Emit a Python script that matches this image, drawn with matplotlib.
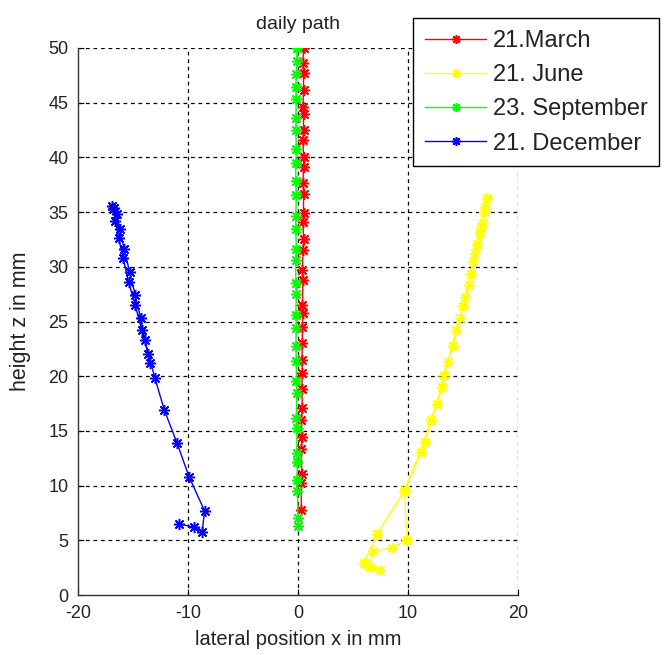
import matplotlib
matplotlib.use("Agg")
import matplotlib.pyplot as plt

plt.rcParams['font.family'] = ['Liberation Sans', 'DejaVu Sans']
plt.rcParams['axes.unicode_minus'] = False

# ---- data ----
labels = ["21.March", "21. June", "23. September", "21. December"]
colors = ["#ff0000", "#ffff00", "#00ff00", "#0000ff"]

march_x = [0.3, 0.3, 0.35, 0.3, 0.35, 0.3, 0.4, 0.35, 0.4, 0.35, 0.4, 0.4, 0.45, 0.4, 0.45, 0.4,
           0.45, 0.5, 0.45, 0.5, 0.5, 0.45, 0.5, 0.5, 0.45, 0.5, 0.5, 0.45, 0.5, 0.5, 0.45, 0.5]
march_y = [7.8, 10.2, 11.1, 13.3, 14.4, 16.0, 17.1, 18.8, 20.3, 21.5, 23.0, 24.5, 25.8, 26.5, 28.8, 29.7,
           31.5, 32.5, 34.1, 34.9, 36.7, 37.7, 39.1, 40.0, 41.6, 42.5, 44.0, 44.6, 46.2, 47.7, 48.6, 50.0]

sept_x = [0.0, 0.0, -0.05, -0.1, -0.05, -0.1, -0.1, -0.15, -0.1, -0.15, -0.15, -0.2, -0.15, -0.2, -0.15, -0.2,
          -0.2, -0.15, -0.2, -0.2, -0.15, -0.2, -0.2, -0.15, -0.2, -0.2, -0.15, -0.2, -0.15, -0.1, -0.1]
sept_y = [6.3, 7.0, 9.5, 10.5, 12.2, 13.0, 15.3, 16.2, 18.5, 19.6, 21.4, 22.8, 24.4, 25.6, 27.5, 28.5,
          30.6, 31.6, 33.5, 34.6, 36.6, 37.8, 39.5, 40.8, 42.5, 43.6, 45.3, 46.4, 47.6, 48.8, 50.0]

june_x = [6.0, 7.2, 9.6, 11.2, 12.1, 13.1, 13.6, 14.4, 15.0, 15.5, 15.9, 16.3, 16.6, 16.9, 17.15,
          17.0, 16.8, 16.5, 16.1, 15.7, 15.2, 14.7, 14.1, 13.3, 12.6, 11.5, 9.7, 9.9, 8.5, 6.85, 6.5, 7.45]
june_y = [2.9, 5.6, 9.4, 13.1, 16.0, 19.0, 21.3, 24.2, 26.4, 28.3, 30.5, 32.1, 33.6, 35.0, 36.3,
          35.5, 34.0, 33.1, 31.3, 29.3, 27.2, 25.3, 22.8, 20.1, 17.5, 14.0, 9.6, 5.0, 4.3, 4.0, 2.6, 2.3]

dec_x = [-10.8, -9.5, -8.7, -8.5, -9.9, -11.0, -12.15, -13.0, -13.6, -14.2, -14.8, -15.4, -15.9, -16.3,
         -16.6, -16.8, -16.9, -16.7, -16.5, -16.2, -15.8, -15.3, -14.8, -14.3, -13.9, -13.45]
dec_y = [6.5, 6.2, 5.8, 7.7, 10.8, 13.9, 16.9, 19.8, 22.0, 24.2, 26.5, 28.6, 30.8, 32.6,
         34.2, 35.3, 35.6, 35.4, 34.8, 33.5, 31.6, 29.5, 27.4, 25.3, 23.3, 21.2]

xticks = [-20, -10, 0, 10, 20]
yticks = [0, 5, 10, 15, 20, 25, 30, 35, 40, 45, 50]

# ---- figure ----
fig = plt.figure(figsize=(6.65, 6.55), dpi=100)
ax = fig.add_axes([78 / 665, 1 - 595 / 655, 440 / 665, 547 / 655])

series = [(march_x, march_y), (june_x, june_y), (sept_x, sept_y), (dec_x, dec_y)]
marker = (8, 2, 0)
for (xs, ys), c, lab in zip(series, colors, labels):
    ax.plot(xs, ys, color=c, lw=1.0, marker=marker, ms=8, mew=1.1, label=lab, clip_on=True)

ax.set_xlim(-20, 20)
ax.set_ylim(0, 50)
ax.set_xticks(xticks)
ax.set_yticks(yticks)
ax.tick_params(direction='in', length=4, width=0.8, labelsize=13, pad=7, labelcolor='#222222')
for s in ['top', 'right']:
    ax.spines[s].set_visible(False)
for s in ['left', 'bottom']:
    ax.spines[s].set_linewidth(1.0)
    ax.spines[s].set_color('#333333')

# dashed grid including right/top edges
for xv in xticks[1:]:
    ax.axvline(xv, color='black', lw=0.9, ls=(0, (3, 3)), zorder=0.5)
for yv in yticks[1:]:
    ax.axhline(yv, color='black', lw=0.9, ls=(0, (3, 3)), zorder=0.5)

ax.set_title("daily path", fontsize=14, color='#222222', pad=14)
ax.set_xlabel("lateral position x in mm", fontsize=14.5, color='#222222', labelpad=6)
ax.set_ylabel("height z in mm", fontsize=15.5, color='#222222', labelpad=12)

leg = fig.legend(loc='upper left', bbox_to_anchor=(413 / 665, 1 - 18 / 655), fontsize=17,
                 frameon=True, fancybox=False, edgecolor='black', framealpha=1,
                 handlelength=2.6, handletextpad=0.28, labelspacing=0.52, borderpad=0.5,
                 borderaxespad=0, numpoints=1, markerscale=0.8)
leg.get_frame().set_linewidth(1.0)
for t in leg.get_texts():
    t.set_color('#222222')

fig.savefig("out.png", dpi=100)
